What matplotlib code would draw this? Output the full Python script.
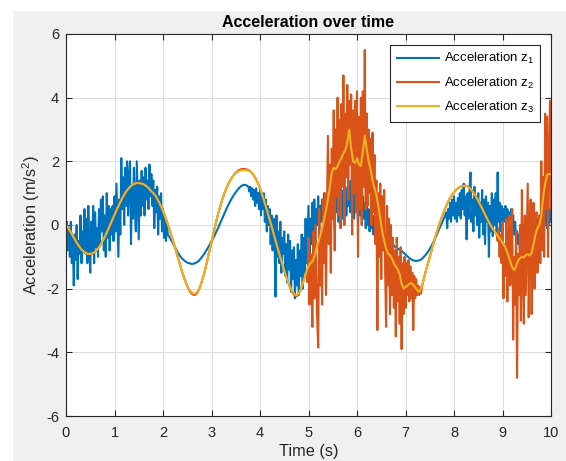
"""
Acceleration over time: three z-acceleration traces, MATLAB-style figure.
Writes out.png (566 x 461 px).
"""

import matplotlib
matplotlib.use('Agg')
import matplotlib.pyplot as plt
from matplotlib.patches import Rectangle
import numpy as np

# sampling of each trace: (first time, last time, step) in seconds
z1_segments = [(0.00, 2.10, 0.02), (2.14, 3.74, 0.04), (3.76, 6.90, 0.02),
               (6.94, 7.82, 0.04), (7.84, 10.00, 0.02)]
z2_segments = [(0.00, 4.96, 0.04), (4.98, 7.36, 0.02), (7.40, 8.88, 0.04),
               (8.90, 10.00, 0.02)]
z3_segments = [(0.00, 10.00, 0.04)]

# acceleration z1 (blue)
acc_z1 = [
    # 0.00 - 2.10
    -0.3, 0.1, -0.8, -0.2, -1.0, 0.1, -1.2, -0.4, -1.9, -0.3,
    -1.1, 0.0, -1.7, -0.5, -0.9, 0.3, -1.2, -0.2, -0.8, 0.5,
    -0.9, 0.2, -1.2, 0.6, -0.6, -1.5, 0.1, -0.9, 0.6, -1.2,
    0.4, -0.7, -0.1, -1.0, 0.5, -0.6, 0.8, -0.2, 0.9, -0.8,
    0.3, -1.0, 1.0, -0.4, 0.6, -0.8, 0.5, -0.3, 0.6, -0.5,
    0.9, -0.2, 1.3, 0.2, -1.0, 0.8, -0.3, 2.1, 0.5, 1.5,
    0.0, 1.8, 0.6, 2.0, 0.3, 1.5, 2.0, -0.6, 1.2, 0.2,
    1.8, 0.5, -0.2, 2.0, 0.8, -0.45, 1.4, 0.3, 1.7, 0.6,
    1.5, 0.3, 1.8, 0.8, 1.4, 0.5, 1.9, 0.9, 1.6, 0.6,
    1.4, -0.1, 1.1, 0.4, 1.2, -0.3, 0.9, 0.2, 1.0, -0.2,
    0.5, -0.4, 0.3, -0.5, 0.1, -0.3,
    # 2.14 - 3.74
    -0.4, -0.5, -0.62, -0.74, -0.85, -0.95, -1.03, -1.09, -1.14, -1.18,
    -1.2, -1.22, -1.22, -1.2, -1.17, -1.12, -1.05, -0.97, -0.88, -0.78,
    -0.68, -0.57, -0.46, -0.34, -0.21, -0.08, 0.06, 0.2, 0.34, 0.48,
    0.61, 0.73, 0.84, 0.94, 1.03, 1.11, 1.18, 1.23, 1.26, 1.26,
    1.23,
    # 3.76 - 6.90
    1.2, 1.05,
    1.2, 0.9, 1.15, 0.8, 1.1, 0.6, 1.15, 0.7, 1.0, 0.5,
    1.1, 0.3, 0.9, 0.5, 1.0, 0.1, 0.8, -0.2, 0.6, 0.0,
    0.5, -0.6, 0.3, -0.8, 0.2, -0.4, -2.25, 0.3, -1.0, -0.2,
    -1.2, 0.1, -1.5, -0.4, -0.9, -0.2, -1.6, -0.6, -1.8, -0.3,
    -1.4, -0.5, -2.1, -0.8, -1.7, -0.7, -2.3, -1.1, -1.9, -0.6,
    -2.2, -0.8, -1.6, -0.3, -2.0, -0.4, -1.5, 0.2, -1.2, -0.3,
    0.6, -1.4, 0.2, -0.6, 0.7, -0.3, 0.8, -0.6, 0.5, 0.0,
    0.9, -0.2, 0.6, 0.1, 0.8, 0.2, 1.0, 0.3, 0.7, -0.1,
    1.0, 0.2, 0.8, 0.0, 1.1, 0.3, 0.9, -0.1, 1.0, 0.4,
    1.2, 0.1, 0.8, 0.3, 1.1, 0.2, 1.0, 0.5, 1.2, 0.3,
    1.1, 0.6, 1.35, 0.4, 1.4, 0.5, 1.0, 0.2, 1.1, 0.4,
    0.9, 0.1, 1.0, 0.3, 0.8, 0.0, 0.9, 0.2, 0.7, -0.1,
    0.6, 0.0, 0.5, -0.2, 0.4, -0.1, 0.3, -0.3, 0.2, -0.2,
    0.1, -0.3, 0.0, -0.35, -0.1, -0.3, -0.2, -0.4, -0.3, -0.45,
    -0.38, -0.5, -0.45, -0.55, -0.52, -0.6, -0.58, -0.64, -0.64, -0.68,
    -0.7, -0.72, -0.74, -0.76, -0.78, -0.8,
    # 6.94 - 7.82
    -0.84, -0.9, -0.96, -1.01, -1.06, -1.1, -1.12, -1.13, -1.12, -1.1,
    -1.06, -1.0, -0.93, -0.85, -0.75, -0.64, -0.52, -0.39, -0.25, -0.11,
    0.03, 0.17, 0.31,
    # 7.84 - 10.00
    0.4, -0.1, 0.5,
    0.2, 0.7, 0.1, 0.8, 0.3, 0.9, 0.2, 0.7, 0.1, 0.85,
    0.3, 1.0, 0.2, 1.1, 0.5, 1.3, 0.3, 0.9, -0.45, 1.0,
    0.2, 1.1, 1.65, 0.1, 0.8, -0.2, 1.2, 0.3, 0.9, 0.0,
    1.0, -0.4, 0.7, 0.1, 1.1, -0.3, 0.8, -0.6, 0.9, 0.1,
    0.7, -1.0, 0.6, -0.2, 1.0, -0.35, 0.8, 0.0, 1.0, -0.2,
    1.65, 0.1, 0.7, -0.2, 0.6, 0.0, 0.5, 0.1, 0.6, 0.2,
    0.5, 0.1, 0.4, 0.2, 0.5, 0.0, 0.3, -0.3, 0.1, -0.5,
    -0.2, -0.6, -0.3, -0.8, -0.2, -0.5, 0.0, -0.6, -0.1, -0.4,
    0.1, -0.5, 0.0, -0.3, 0.2, -0.4, 0.0, -0.3, 0.1, -0.2,
    0.1, -0.3, 0.2, -0.1, 0.3, -0.1, 0.2, -0.2, 0.4, 0.0,
    0.5, -0.1, 0.6, 0.0, 0.5,
    0.1,
]

# acceleration z2 (orange-red)
acc_z2 = [
    # 0.00 - 4.96
    0.00, -0.08, -0.18, -0.28, -0.39, -0.50, -0.60, -0.69, -0.77, -0.83, -0.87, -0.90, -0.92,
    -0.91, -0.89, -0.84, -0.78, -0.70, -0.60, -0.49, -0.37, -0.24, -0.10, 0.04, 0.18,
    0.32, 0.46, 0.59, 0.72, 0.84, 0.95, 1.05, 1.13, 1.20, 1.25, 1.29, 1.31, 1.33,
    1.32, 1.30, 1.28, 1.24, 1.19, 1.13, 1.06, 1.00, 0.93, 0.83, 0.71, 0.58,
    0.44, 0.28, 0.11, -0.07, -0.26, -0.46, -0.67, -0.88, -1.09, -1.30, -1.50, -1.68, -1.85,
    -1.99, -2.10, -2.17, -2.20, -2.18, -2.09, -1.96, -1.78, -1.57, -1.33, -1.07, -0.80,
    -0.53, -0.26, 0.00, 0.25, 0.48, 0.69, 0.88, 1.05, 1.20, 1.33, 1.44, 1.53, 1.61,
    1.67, 1.72, 1.75, 1.76, 1.76, 1.75, 1.73, 1.69, 1.62, 1.54, 1.43, 1.30,
    1.15, 0.98, 0.79, 0.59, 0.38, 0.17, -0.05, -0.27, -0.49, -0.71, -0.92, -1.13, -1.34,
    -1.54, -1.72, -1.89, -2.04, -2.15, -2.22, -2.24, -2.16, -2.02, -1.85, -1.65, -1.45,
    # 4.98 - 7.36
    -1.8,
    -0.4, -2.5, -0.9, -1.8, -3.2, -0.2, -2.3, 0.0, -1.5, -3.0,
    -3.85, 0.5, -1.9, -0.3, -2.5, 0.8, -1.2, 1.0, -2.2, 0.3,
    2.8, -0.6, 1.9, -1.5, 2.4, 0.2, 3.6, -0.8, 3.0, 0.9,
    4.0, 0.3, 3.3, -0.1, 3.8, 1.2, 4.7, 0.0, 3.5, 1.5,
    4.4, 0.8, 3.9, 1.9, 4.1, -0.3, 3.6, 1.0, 3.9, 0.4,
    4.2, -1.0, 3.4, 0.5, 4.0, 0.0, 4.2, 1.2, 5.5, 0.5,
    3.5, 0.6, 3.0, 1.0, 2.7, 0.0, 2.9, 0.4, 2.2, -0.6,
    1.4, -3.3, 1.0, -1.0, 1.3, -1.7, 0.9, -0.8, 1.1, -1.4,
    -3.2, 0.6, -1.9, 0.2, -2.8, 0.0, -2.2, -0.4, -2.6, -0.8,
    -3.5, -0.4, -2.4, -1.0, -3.1, -0.7, -3.9, -1.2, -2.8, -1.0,
    -2.6, -1.2, -2.2, -1.1, -2.4, -1.3, -2.3, -1.5, -3.3, -1.6,
    -2.3, -1.7, -2.2, -1.9, -2.2, -1.95, -2.15, -1.95, -1.8,
    # 7.40 - 8.88
    -1.55, -1.33, -1.10, -0.88, -0.66, -0.45, -0.25, -0.06, 0.12, 0.30,
    0.45, 0.60, 0.73, 0.85, 0.95, 1.03, 1.10, 1.15, 1.19, 1.22,
    1.24, 1.24, 1.22, 1.16, 1.10, 1.02, 0.92, 0.82, 0.70, 0.58,
    0.46, 0.33, 0.21, 0.09, -0.02, -0.12, -0.21, -0.30,
    # 8.90 - 10.00
    -0.5, -0.1, -1.0, -0.3, -1.2, 0.1, -2.3, -0.6, -1.6, 0.2,
    -2.4, -0.8, 0.3, -1.9, -0.4, 0.5, -3.6, -1.0, -2.5, -0.2,
    -4.8, -0.9, -2.2, 0.0, -3.0, 1.1, -1.5, -3.1, 0.3, -2.2,
    -0.4, 1.3, -2.9, -0.6, 0.8, -2.8, -0.5, 0.7, -2.0, -0.3,
    0.4, -1.5, -0.2, 0.3, -1.2, 2.0, -0.8, 1.5, -1.0, 3.5,
    0.5, 3.4, -1.0, 2.2, 3.9,
    0.5,
]

# acceleration z3 (yellow), 0.00 - 10.00
acc_z3 = [
    0.00, -0.08, -0.18, -0.28, -0.39, -0.50, -0.60, -0.69, -0.77, -0.83, -0.87, -0.90, -0.91,
    -0.90, -0.88, -0.84, -0.78, -0.70, -0.60, -0.49, -0.37, -0.24, -0.10, 0.04, 0.18,
    0.32, 0.46, 0.59, 0.72, 0.84, 0.95, 1.05, 1.13, 1.20, 1.25, 1.29, 1.31, 1.32,
    1.31, 1.30, 1.28, 1.24, 1.19, 1.13, 1.06, 1.00, 0.93, 0.83, 0.71, 0.58,
    0.44, 0.28, 0.11, -0.07, -0.26, -0.46, -0.67, -0.88, -1.09, -1.30, -1.50, -1.68, -1.84,
    -1.97, -2.07, -2.13, -2.16, -2.14, -2.07, -1.95, -1.78, -1.57, -1.33, -1.07, -0.80,
    -0.53, -0.26, 0.00, 0.25, 0.48, 0.69, 0.88, 1.05, 1.20, 1.33, 1.44, 1.53, 1.60,
    1.65, 1.69, 1.71, 1.72, 1.72, 1.72, 1.71, 1.68, 1.62, 1.54, 1.43, 1.30,
    1.15, 0.98, 0.79, 0.59, 0.38, 0.17, -0.05, -0.27, -0.49, -0.71, -0.92, -1.13, -1.34,
    -1.54, -1.72, -1.88, -2.02, -2.12, -2.19, -2.20, -2.14, -2.02, -1.85, -1.65, -1.45,
    -1.30, -1.20, -1.15, -1.00, -0.75, -0.55, -0.35, -0.10, 0.15, 0.45, 0.80, 1.20, 1.65,
    1.80, 1.75, 1.85, 2.00, 2.10, 2.25, 2.35, 2.60, 3.00, 2.40, 2.00, 1.95,
    2.10, 1.90, 1.85, 2.30, 2.80, 2.40, 2.00, 1.75, 1.40, 1.15, 0.95, 0.60, 0.20,
    -0.20, -0.50, -0.75, -0.90, -0.95, -1.05, -1.20, -1.30, -1.40, -1.55, -1.85, -2.00,
    -1.95, -1.90, -1.85, -1.82, -1.88, -1.95, -2.05, -2.10, -2.00, -1.80, -1.55, -1.33, -1.10,
    -0.88, -0.66, -0.45, -0.25, -0.06, 0.12, 0.30, 0.45, 0.60, 0.73, 0.85, 0.95,
    1.03, 1.10, 1.15, 1.19, 1.22, 1.23, 1.23, 1.21, 1.16, 1.10, 1.02, 0.92, 0.82,
    0.70, 0.58, 0.46, 0.33, 0.21, 0.09, -0.02, -0.12, -0.21, -0.30, -0.38, -0.47,
    -0.55, -0.65, -0.78, -0.95, -1.15, -1.33, -1.42, -1.30, -1.12, -1.05, -1.00, -1.02, -0.95,
    -0.92, -0.96, -0.88, -0.60, -0.30, -0.10, 0.00, 0.30, 0.90, 1.30, 1.58, 1.60,
    1.60,
]

series_labels = ['Acceleration z$_1$', 'Acceleration z$_2$', 'Acceleration z$_3$']
x_ticks = [0, 1, 2, 3, 4, 5, 6, 7, 8, 9, 10]
y_ticks = [-6, -4, -2, 0, 2, 4, 6]

# MATLAB default line colours
line_colors = ['#0072BD', '#D95319', '#EDB120']


def sample_times(segments):
    """build the time stamps of one trace from its (start, stop, step) pieces"""
    parts = [np.round(np.arange(a, b + step / 2, step), 2) for a, b, step in segments]
    return np.concatenate(parts)


plt.rcParams['font.family'] = ['Liberation Sans', 'DejaVu Sans']
plt.rcParams['mathtext.fontset'] = 'custom'
plt.rcParams['mathtext.rm'] = 'Liberation Sans'
plt.rcParams['axes.unicode_minus'] = False

fig_w, fig_h, fig_dpi = 566, 461, 100
fig = plt.figure(figsize=(fig_w / fig_dpi, fig_h / fig_dpi), dpi=fig_dpi,
                 facecolor='#f0f0f0')

# white strip along the top and left edge of the screenshot
fig.patches.append(Rectangle((0, 1 - 10 / fig_h), 1, 10 / fig_h,
                             transform=fig.transFigure, color='white', zorder=0))
fig.patches.append(Rectangle((0, 0), 12 / fig_w, 1,
                             transform=fig.transFigure, color='white', zorder=0))

ax = fig.add_axes([66 / fig_w, 45 / fig_h, 485 / fig_w, 382 / fig_h])

traces = [(z1_segments, acc_z1), (z2_segments, acc_z2), (z3_segments, acc_z3)]
for (segs, vals), col, lab in zip(traces, line_colors, series_labels):
    times = sample_times(segs)
    n = min(len(times), len(vals))
    if len(times) != len(vals):
        print('length mismatch for', lab, len(times), len(vals))
    ax.plot(times[:n], vals[:n], color=col, linewidth=1.5, label=lab)

ax.set_xlim(0, 10)
ax.set_ylim(-6, 6)
ax.set_xticks(x_ticks)
ax.set_yticks(y_ticks)
ax.grid(True, color='#dcdcdc', linewidth=0.7)
ax.set_axisbelow(True)

edge_col = '#262626'
for sp in ax.spines.values():
    sp.set_color(edge_col)
    sp.set_linewidth(0.8)
ax.tick_params(direction='in', length=4, width=0.8, color=edge_col,
               labelcolor=edge_col, labelsize=10.5, top=True, right=True)
ax.tick_params(axis='x', pad=7)
ax.tick_params(axis='y', pad=5)

ax.set_title('Acceleration over time', fontsize=11.5, fontweight='bold',
             color='black', pad=5)
ax.set_xlabel('Time (s)', fontsize=11.8, color=edge_col, labelpad=3)
ax.set_ylabel('Acceleration (m/s$^2$)', fontsize=11.8, color=edge_col, labelpad=3)

leg = ax.legend(loc='upper right', fontsize=9.5, frameon=True, fancybox=False,
                edgecolor=edge_col, framealpha=1, handlelength=3.2,
                borderaxespad=0.8, labelspacing=0.7, handletextpad=0.35,
                borderpad=0.5)
leg.get_frame().set_linewidth(0.8)

plt.savefig('out.png', dpi=fig_dpi, facecolor=fig.get_facecolor())
plt.close()
